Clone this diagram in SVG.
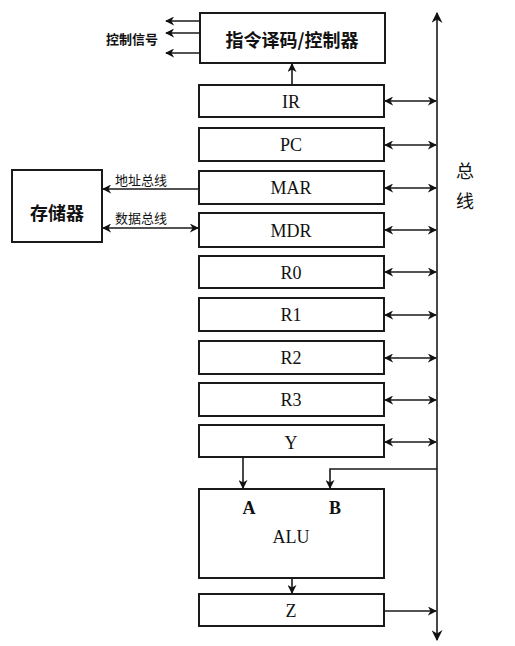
<svg xmlns="http://www.w3.org/2000/svg" width="515" height="646" viewBox="0 0 515 646">
<defs>
<marker id="ah" viewBox="0 0 10 10" refX="9" refY="5" markerWidth="9" markerHeight="9" orient="auto-start-reverse" markerUnits="userSpaceOnUse">
<path d="M0,0 L10,5 L0,10 L3,5 Z" fill="#111"/>
</marker>
<marker id="ahb" viewBox="0 0 10 10" refX="9" refY="5" markerWidth="11" markerHeight="11" orient="auto-start-reverse" markerUnits="userSpaceOnUse">
<path d="M0,0 L10,5 L0,10 L3,5 Z" fill="#111"/>
</marker>
</defs>
<style>
.box{fill:#fff;stroke:#1a1a1a;stroke-width:2}
.reg{font-family:"Liberation Serif","Noto Serif",serif;font-size:18px;fill:#111;text-anchor:middle;dominant-baseline:central}
.cjk{font-family:"Noto Sans CJK SC",sans-serif;fill:#111;text-anchor:middle;dominant-baseline:central}
.ln{stroke:#1a1a1a;stroke-width:1.6;fill:none}
</style>
<rect width="515" height="646" fill="#fff"/>
<g id="controller"><rect class="box" x="200" y="13" width="185" height="50"/><text class="cjk" x="292" y="39" font-size="18" font-weight="bold">指令译码/控制器</text></g>
<g id="memory"><rect class="box" x="12" y="170" width="90" height="72"/><text class="cjk" x="57" y="212" font-size="18" font-weight="bold">存储器</text></g>
<g id="IR"><rect class="box" x="199" y="85" width="185" height="32"/><text class="reg" x="291" y="102">IR</text></g>
<g id="PC"><rect class="box" x="199" y="128" width="185" height="33"/><text class="reg" x="291" y="145">PC</text></g>
<g id="MAR"><rect class="box" x="199" y="171" width="185" height="33"/><text class="reg" x="291" y="188">MAR</text></g>
<g id="MDR"><rect class="box" x="199" y="213" width="185" height="34"/><text class="reg" x="291" y="231">MDR</text></g>
<g id="R0"><rect class="box" x="199" y="256" width="185" height="32"/><text class="reg" x="291" y="273">R0</text></g>
<g id="R1"><rect class="box" x="199" y="298" width="185" height="33"/><text class="reg" x="291" y="315">R1</text></g>
<g id="R2"><rect class="box" x="199" y="341" width="185" height="33"/><text class="reg" x="291" y="358">R2</text></g>
<g id="R3"><rect class="box" x="199" y="383" width="185" height="33"/><text class="reg" x="291" y="400">R3</text></g>
<g id="Y"><rect class="box" x="199" y="425" width="185" height="32"/><text class="reg" x="291" y="443">Y</text></g>
<g id="ALU"><rect class="box" x="199" y="489" width="185" height="89"/><text class="reg" x="249" y="508" font-weight="bold">A</text><text class="reg" x="335" y="508" font-weight="bold">B</text><text class="reg" x="291" y="537">ALU</text></g>
<g id="Z"><rect class="box" x="199" y="594" width="185" height="32"/><text class="reg" x="291" y="611">Z</text></g>
<g id="labels">
<text class="cjk" x="132" y="38" font-size="13" font-weight="bold">控制信号</text>
<text class="cjk" x="141" y="179" font-size="13">地址总线</text>
<text class="cjk" x="141" y="217" font-size="13">数据总线</text>
<text class="cjk" x="465" y="170" font-size="18">总</text>
<text class="cjk" x="465" y="200" font-size="18">线</text>
</g>
<g id="connectors">
<line class="ln" x1="437" y1="640" x2="437" y2="13" stroke-width="2.4" marker-end="url(#ahb)" marker-start="url(#ahb)"/>
<line class="ln" x1="200" y1="21" x2="166" y2="21" marker-end="url(#ah)"/>
<line class="ln" x1="200" y1="33" x2="166" y2="33" marker-end="url(#ah)"/>
<line class="ln" x1="200" y1="53" x2="166" y2="53" marker-end="url(#ah)"/>
<line class="ln" x1="292" y1="85" x2="292" y2="64" marker-end="url(#ah)"/>
<line class="ln" x1="199" y1="189" x2="103" y2="189" marker-end="url(#ah)"/>
<line class="ln" x1="103" y1="228" x2="198" y2="228" marker-end="url(#ah)" marker-start="url(#ah)"/>
<line class="ln" x1="385" y1="101" x2="436" y2="101" marker-end="url(#ah)" marker-start="url(#ah)"/>
<line class="ln" x1="385" y1="145" x2="436" y2="145" marker-end="url(#ah)" marker-start="url(#ah)"/>
<line class="ln" x1="385" y1="188" x2="436" y2="188" marker-end="url(#ah)" marker-start="url(#ah)"/>
<line class="ln" x1="385" y1="230" x2="436" y2="230" marker-end="url(#ah)" marker-start="url(#ah)"/>
<line class="ln" x1="385" y1="272" x2="436" y2="272" marker-end="url(#ah)" marker-start="url(#ah)"/>
<line class="ln" x1="385" y1="315" x2="436" y2="315" marker-end="url(#ah)" marker-start="url(#ah)"/>
<line class="ln" x1="385" y1="358" x2="436" y2="358" marker-end="url(#ah)" marker-start="url(#ah)"/>
<line class="ln" x1="385" y1="400" x2="436" y2="400" marker-end="url(#ah)" marker-start="url(#ah)"/>
<line class="ln" x1="385" y1="442" x2="436" y2="442" marker-end="url(#ah)" marker-start="url(#ah)"/>
<line class="ln" x1="243" y1="457" x2="243" y2="488" marker-end="url(#ah)"/>
<polyline class="ln" points="437,469 330,469 330,488" marker-end="url(#ah)"/>
<line class="ln" x1="292" y1="578" x2="292" y2="593" marker-end="url(#ah)"/>
<line class="ln" x1="384" y1="611" x2="436" y2="611" marker-end="url(#ah)"/>
</g>
</svg>
